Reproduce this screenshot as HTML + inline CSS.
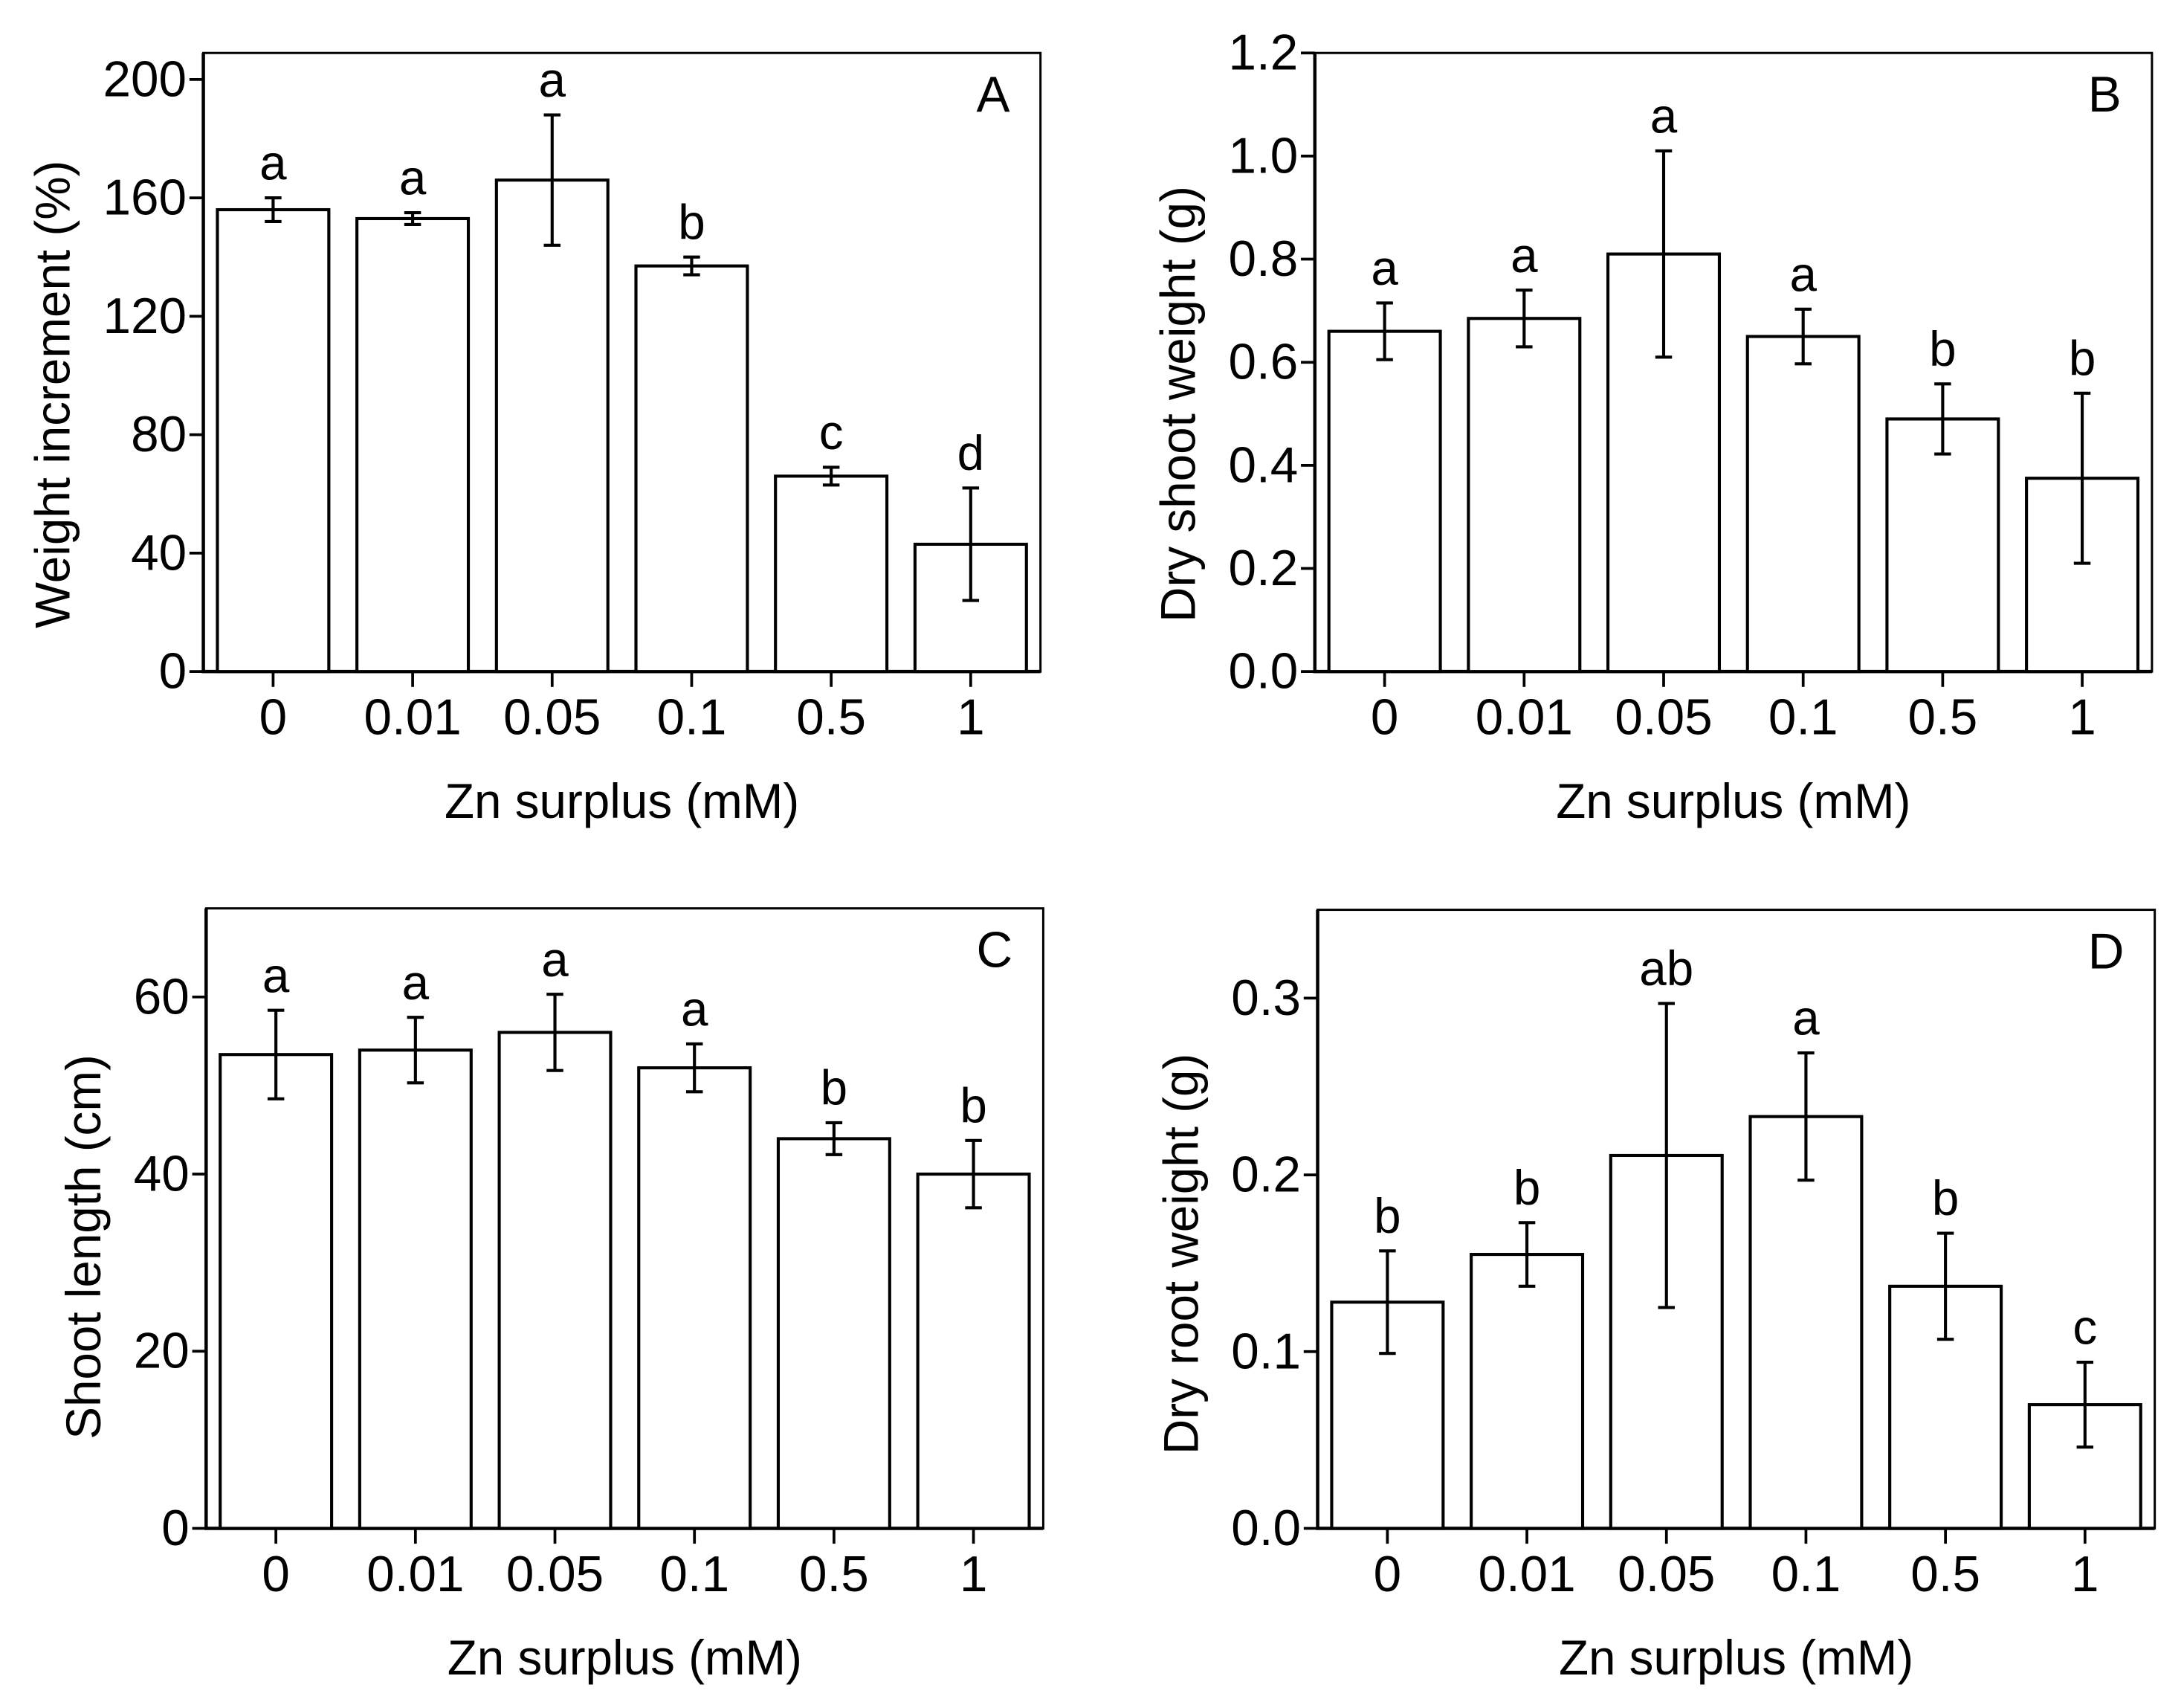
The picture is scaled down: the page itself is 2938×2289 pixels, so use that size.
<!DOCTYPE html>
<html><head><meta charset="utf-8"><style>
html,body{margin:0;padding:0;background:#fff}
svg{display:block}
text{font-family:"Liberation Sans",Arial,sans-serif;fill:#000}
</style></head><body>
<svg id="fig" xmlns="http://www.w3.org/2000/svg" width="2938" height="2289" viewBox="0 0 1568 1221.6"></svg>
<script>
const categories = ["0","0.01","0.05","0.1","0.5","1"];
const valuesA = [156,153,166,137,66,43];
const errorsA = [4,2,22,3,3,19];
const lettersA = ["a","a","a","b","c","d"];
const ticksA = [0,40,80,120,160,200];
const valuesB = [0.66,0.685,0.81,0.65,0.49,0.375];
const errorsB = [0.055,0.055,0.2,0.053,0.068,0.165];
const lettersB = ["a","a","a","a","b","b"];
const ticksB = ["0.0","0.2","0.4","0.6","0.8","1.0","1.2"];
const valuesC = [53.5,54,56,52,44,40];
const errorsC = [5,3.7,4.3,2.7,1.8,3.8];
const lettersC = ["a","a","a","a","b","b"];
const ticksC = [0,20,40,60];
const valuesD = [0.128,0.155,0.211,0.233,0.137,0.07];
const errorsD = [0.029,0.018,0.086,0.036,0.03,0.024];
const lettersD = ["b","b","ab","a","b","c"];
const ticksD = ["0.0","0.1","0.2","0.3"];

const NS="http://www.w3.org/2000/svg";
const svg=document.getElementById('fig');
function mk(tag,attrs,parent){const e=document.createElementNS(NS,tag);for(const k in attrs)e.setAttribute(k,attrs[k]);(parent||svg).appendChild(e);return e;}

const panels=[
 {id:'a',L:146,R:747,T:38,B:482,ymax:209.6,vals:valuesA,errs:errorsA,lets:lettersA,ticks:ticksA,title:'Weight increment (%)',tx:38,cy:283,label:'A'},
 {id:'b',L:944,R:1545,T:38,B:482,ymax:1.2,vals:valuesB,errs:errorsB,lets:lettersB,ticks:ticksB,title:'Dry shoot weight (g)',tx:846,cy:290,label:'B'},
 {id:'c',L:148,R:749,T:652,B:1097,ymax:70,vals:valuesC,errs:errorsC,lets:lettersC,ticks:ticksC,title:'Shoot length (cm)',tx:60,cy:895,label:'C'},
 {id:'d',L:946,R:1547,T:653,B:1097,ymax:0.35,vals:valuesD,errs:errorsD,lets:lettersD,ticks:ticksD,title:'Dry root weight (g)',tx:848,cy:900,label:'D'}
];
panels[0].ymax=200*444/425;
const FS=35;

panels.forEach(p=>{
  const g=mk('g',{});
  
  
  const y=v=>p.B-(v/p.ymax)*(p.B-p.T);
  const step=(p.R-p.L)/6;
  const x=i=>p.L+step*(i+0.5);
  const fr=mk('rect',{x:p.L,y:p.T,width:p.R-p.L,height:p.B-p.T,fill:'none',stroke:'#000','stroke-width':1.6},g);
  
  
  const ax=mk('path',{d:`M${p.L},${p.T} L${p.L},${p.B} L${p.R},${p.B}`,fill:'none',stroke:'#000','stroke-width':2.4},g);
  
  
  p.ticks.forEach(t=>{
    const v=parseFloat(t);const yy=y(v);
    const tk=mk('line',{x1:p.L-10,x2:p.L,y1:yy,y2:yy,stroke:'#000','stroke-width':2},g);
    
    
    const tl=mk('text',{x:p.L-12,y:yy+12,'text-anchor':'end','font-size':FS+1},g);
    tl.textContent=String(t);
    
    
  });
  p.vals.forEach((v,i)=>{
    const bw=80;
    const b=mk('rect',{x:x(i)-bw/2,y:y(v),width:bw,height:p.B-y(v),fill:'#fff',stroke:'#000','stroke-width':2.2},g);
    
    
    const e=p.errs[i];const yt=y(v+e),yb=y(v-e);
    const eb=mk('path',{d:`M${x(i)},${yt} L${x(i)},${yb} M${x(i)-6},${yt} L${x(i)+6},${yt} M${x(i)-6},${yb} L${x(i)+6},${yb}`,stroke:'#000','stroke-width':2.2,fill:'none'},g);
    
    
    const lt=mk('text',{x:x(i),y:yt-13,'text-anchor':'middle','font-size':FS},g);
    lt.textContent=p.lets[i];
    
    
    const xt=mk('line',{x1:x(i),x2:x(i),y1:p.B,y2:p.B+11,stroke:'#000','stroke-width':2},g);
    
    
    const xl=mk('text',{x:x(i),y:p.B+45,'text-anchor':'middle','font-size':FS+1},g);
    xl.textContent=categories[i];
    
    
  });
  const xtitle=mk('text',{x:(p.L+p.R)/2,y:p.B+105,'text-anchor':'middle','font-size':FS},g);
  xtitle.textContent='Zn surplus (mM)';
  
  
  const cy=p.cy;
  const yt=mk('text',{x:p.tx,y:cy,'text-anchor':'middle','font-size':FS,transform:`rotate(-90 ${p.tx} ${cy}) translate(0 12)`},g);
  yt.textContent=p.title;
  
  
  const pl=mk('text',{x:p.R-22,y:p.T+42,'text-anchor':'end','font-size':FS+1},g);
  pl.textContent=p.label;
  
  
});
</script>
</body></html>
